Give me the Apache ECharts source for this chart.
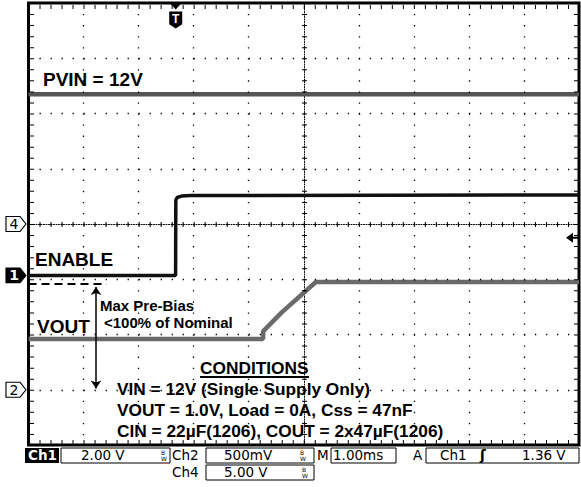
<!DOCTYPE html>
<html><head><meta charset="utf-8">
<script src="https://cdn.jsdelivr.net/npm/echarts@6/dist/echarts.min.js"></script>
<style>html,body{margin:0;padding:0;background:#fff}.c{width:581px;height:487px;position:absolute;left:0;top:0}#b,#m{pointer-events:none}</style>
</head><body><div id="a" class="c"></div><div id="m" class="c"></div><div id="b" class="c"></div>
<script>
// ---- data (time in ms from left edge of screen, 1.00 ms/div; volts per channel) ----
const pvinT = [0, 10];
const pvinV = [11.75, 11.75];                                  // Ch4, PVIN
const enableT = [0, 2.672, 2.676, 2.70, 2.78, 2.95, 10];
const enableV = [0, 0, 2.72, 2.82, 2.87, 2.89, 2.91];          // Ch1, ENABLE
const voutT = [0, 4.26, 4.265, 4.60, 5.22, 10];
const voutV = [0.46, 0.46, 0.53, 0.70, 0.975, 0.975];          // Ch2, VOUT
const triggerTime = 2.674;     // ms
const triggerLevel = 1.36;     // V on Ch1
const preBiasMax = 0.955;      // V on Ch2 (dashed line)
const preBiasArrowTop = 0.93;  // V on Ch2
const preBiasArrowT = 1.226;   // ms
const preBiasDashEnd = 1.42;   // ms

// channel settings
const chVdiv = {ch1: 2.0, ch2: 0.5, ch4: 5.0};
const chGndDiv = {ch1: -0.93, ch2: -3.0, ch4: 0};
const DIVS_Y = 4, DIVS_X = 10;

const GRID = {left: 28.5, top: 3, width: 550.5, height: 442};
const PX_X = GRID.width / DIVS_X, PX_Y = GRID.height / (2 * DIVS_Y);
const FONT = 'Liberation Sans, Arial, sans-serif';

function chAxis(ch) {
  return {type: 'value', gridIndex: 0, show: false,
    min: (-DIVS_Y - chGndDiv[ch]) * chVdiv[ch], max: (DIVS_Y - chGndDiv[ch]) * chVdiv[ch]};
}
function crossAxis(gi, isX) {
  return {type: 'value', gridIndex: gi,
    min: isX ? -DIVS_X/2 : -DIVS_Y, max: isX ? DIVS_X/2 : DIVS_Y, interval: 1,
    axisLine: {show: true, onZero: true, lineStyle: {color: '#000', width: 1, type: [1, 1.5]}},
    axisTick: {show: false}, axisLabel: {show: false}, splitLine: {show: false}};
}
const pent = 'path://M0,0 L14,0 L20,7.5 L14,15 L0,15 Z';
function chMarker(label, dark) {
  return {coord: [0, 0], symbol: pent, symbolSize: [20, 15], symbolOffset: [-12.5, 0],
    itemStyle: {color: dark ? '#000' : '#fff', borderColor: '#000', borderWidth: 1},
    label: {show: true, position: 'inside', formatter: label, color: dark ? '#fff' : '#000',
      fontFamily: 'DejaVu Sans', fontSize: 14, fontWeight: dark ? 'bold' : 'normal', offset: [-2, 0]}};
}
function zipped(t, v) { return t.map((x, i) => [x, v[i]]); }
const ch1Top = (DIVS_Y - chGndDiv.ch1) * chVdiv.ch1;

// ---- chart A: screen frame, centre axes + traces ----
const chart = echarts.init(document.getElementById('a'), null, {renderer: 'svg'});
chart.setOption({
  animation: false,
  backgroundColor: '#fff',
  grid: [Object.assign({show: true, borderColor: '#000', borderWidth: 3, backgroundColor: 'transparent'}, GRID)],
  xAxis: [crossAxis(0, true), {type: 'value', gridIndex: 0, show: false, min: 0, max: DIVS_X}],
  yAxis: [crossAxis(0, false), chAxis('ch4'), chAxis('ch1'), chAxis('ch2')],
  series: [
    {name: 'PVIN', type: 'line', xAxisIndex: 1, yAxisIndex: 1, data: zipped(pvinT, pvinV),
      showSymbol: false, lineStyle: {color: '#555', width: 4.5}, z: 5,
      markPoint: {silent: true, data: [chMarker('4', false)]}},
    {name: 'VOUT', type: 'line', xAxisIndex: 1, yAxisIndex: 3, data: zipped(voutT, voutV),
      showSymbol: false, lineStyle: {color: '#6a6a6a', width: 4.5}, z: 5},
    {name: 'ENABLE', type: 'line', xAxisIndex: 1, yAxisIndex: 2, data: zipped(enableT, enableV),
      showSymbol: false, lineStyle: {color: '#111', width: 3.5}, z: 6}
  ]
});

// ---- graticule (dotted division lines and 1/5-division tick rows) as mark lines ----
const dotV = {type: [1.3, PX_Y / 5 - 1.3], width: 1.3, color: '#000'};
const dotH = {type: [1.3, PX_X / 5 - 1.3], width: 1.3, color: '#000'};
const grat = [];
for (let x = 1; x < DIVS_X; x++) grat.push([{coord: [x, DIVS_Y], lineStyle: dotV}, {coord: [x, -DIVS_Y]}]);
for (let y = -DIVS_Y + 1; y < DIVS_Y; y++) grat.push([{coord: [0, y], lineStyle: dotH}, {coord: [DIVS_X, y]}]);
const tickH = (w) => ({type: [1, PX_X / 5 - 1], width: w, color: '#000'});
const tickV = (w) => ({type: [1, PX_Y / 5 - 1], width: w, color: '#000'});
const inY = 3.5 / PX_Y, inX = 3.5 / PX_X;
grat.push([{coord: [0, DIVS_Y - inY], lineStyle: tickH(4)}, {coord: [DIVS_X, DIVS_Y - inY]}]);
grat.push([{coord: [0, -DIVS_Y + inY], lineStyle: tickH(4)}, {coord: [DIVS_X, -DIVS_Y + inY]}]);
grat.push([{coord: [inX, DIVS_Y], lineStyle: tickV(4)}, {coord: [inX, -DIVS_Y]}]);
grat.push([{coord: [DIVS_X - inX, DIVS_Y], lineStyle: tickV(4)}, {coord: [DIVS_X - inX, -DIVS_Y]}]);
grat.push([{coord: [0, 0], lineStyle: tickH(5)}, {coord: [DIVS_X, 0]}]);
grat.push([{coord: [DIVS_X / 2, DIVS_Y], lineStyle: tickV(5)}, {coord: [DIVS_X / 2, -DIVS_Y]}]);

// ---- chart M: graticule, channel/trigger markers and pre-bias annotation on the same scales ----
const mchart = echarts.init(document.getElementById('m'), null, {renderer: 'svg'});
mchart.setOption({
  animation: false,
  grid: [Object.assign({show: false}, GRID)],
  xAxis: [{type: 'value', min: 0, max: DIVS_X, show: false}],
  yAxis: [chAxis('ch1'), chAxis('ch2'), {type: 'value', gridIndex: 0, show: false, min: -DIVS_Y, max: DIVS_Y}],
  series: [
    {name: 'Graticule', type: 'line', xAxisIndex: 0, yAxisIndex: 2, data: [], z: 1,
      markLine: {silent: true, symbol: ['none', 'none'], label: {show: false}, animation: false, data: grat}},
    {name: 'VOUT marks', type: 'line', xAxisIndex: 0, yAxisIndex: 1, data: [],
      markPoint: {silent: true, animation: false, data: [chMarker('2', false)]},
      markLine: {silent: true, symbol: ['none', 'none'], label: {show: false}, animation: false,
        lineStyle: {type: [8, 5], width: 2, color: '#000'},
        data: [[{coord: [0, preBiasMax]}, {coord: [preBiasDashEnd, preBiasMax]}]]}},
    {name: 'VOUT arrow', type: 'line', xAxisIndex: 0, yAxisIndex: 1, data: [],
      markLine: {silent: true, symbol: ['arrow', 'arrow'], symbolSize: 8, label: {show: false}, animation: false,
        lineStyle: {type: 'solid', width: 1.5, color: '#000'},
        data: [[{coord: [preBiasArrowT, preBiasArrowTop]}, {coord: [preBiasArrowT, 0.012]}]]}},
    {name: 'Trigger', type: 'line', xAxisIndex: 0, yAxisIndex: 0, data: [],
      markPoint: {silent: true, animation: false, data: [
        chMarker('1', true),
        {coord: [triggerTime, ch1Top], symbol: 'triangle', symbolRotate: 180,
          symbolSize: [11, 6], symbolOffset: [0, 3.5], itemStyle: {color: '#000'}, label: {show: false}},
        {coord: [triggerTime, ch1Top], symbol: 'path://M0,0 L12,0 L12,12 L6,16 L0,12 Z',
          symbolSize: [13, 17], symbolOffset: [0, 17], itemStyle: {color: '#000'},
          label: {show: true, position: 'inside', formatter: 'T', color: '#fff', fontFamily: FONT, fontWeight: 'bold', fontSize: 12, offset: [0, -1]}},
        {coord: [DIVS_X, triggerLevel], symbol: 'path://M0,5 L7,0 L7,4 L12,4 L12,6 L7,6 L7,10 Z',
          symbolSize: [12, 10], symbolOffset: [-7, 0], itemStyle: {color: '#000'}, label: {show: false}}
      ]}}
  ]
});

// ---- annotation text overlay ----
const txt = (text, x, y, size) => ({type: 'text', left: x, top: y,
  style: {text: text, fontFamily: FONT, fontSize: size, fontWeight: 'bold', fill: '#000'}});
const boxes = [
  {x: 61, y: 448, w: 109}, {x: 206, y: 448, w: 108}, {x: 331, y: 448, w: 65},
  {x: 426, y: 448, w: 153}, {x: 206, y: 465, w: 108}
];
const sb = (text, x, y, opts) => ({type: 'text', left: x, top: y,
  style: Object.assign({text: text, fontFamily: 'DejaVu Sans', fontSize: 13.5, fill: '#000'}, opts || {})});
const bw = (x, y) => sb('B\nW', x, y, {fontSize: 6, lineHeight: 6});
const over = echarts.init(document.getElementById('b'), null, {renderer: 'svg'});
over.setOption({
  animation: false,
  graphic: [
    txt('PVIN = 12V', 43, 70, 19),
    txt('ENABLE', 35, 250, 19),
    txt('VOUT', 37, 317, 19),
    txt('Max Pre-Bias', 100, 298, 15),
    txt('<100% of Nominal', 104, 315, 15),
    txt('CONDITIONS', 200, 359, 17.3),
    {type: 'rect', shape: {x: 200, y: 376, width: 109, height: 2}, style: {fill: '#000'}},
    txt('VIN = 12V (Single Supply Only)', 117, 380, 17.3),
    txt('VOUT = 1.0V, Load = 0A, Css = 47nF', 117, 401, 17.3),
    txt('CIN = 22µF(1206), COUT = 2x47µF(1206)', 117, 422, 17.3),
    // status bar
    {type: 'rect', shape: {x: 25, y: 448, width: 34, height: 15}, style: {fill: '#000'}},
    sb('Ch1', 28, 448, {fill: '#fff', fontWeight: 'bold'}),
    ...boxes.map(b => ({type: 'rect', shape: {x: b.x, y: b.y, width: b.w, height: 15},
      style: {fill: 'transparent', stroke: '#000', lineWidth: 1}})),
    sb('2.00 V', 81, 448), bw(161, 449),
    sb('Ch2', 172, 448),
    sb('500mV', 224, 448), bw(300, 449),
    sb('M', 317, 448),
    sb('1.00ms', 333, 448),
    sb('A', 413, 448),
    sb('Ch1', 440, 448),
    sb('ʃ', 480, 448, {fontWeight: 'bold'}),
    sb('1.36 V', 522, 448),
    sb('Ch4', 172, 465),
    sb('5.00 V', 224, 465), bw(302, 466)
  ]
});
</script>
</body></html>
